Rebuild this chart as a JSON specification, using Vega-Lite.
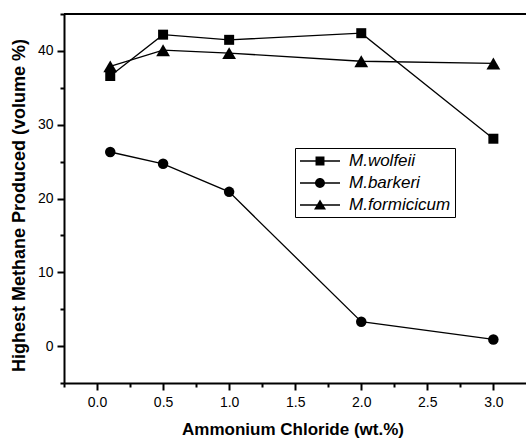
{
  "$schema": "https://vega.github.io/schema/vega-lite/v6.json",
  "width": 462,
  "height": 369,
  "autosize": {"type": "none"},
  "padding": {"left": 64, "top": 14, "right": 0, "bottom": 55},
  "background": "white",
  "config": {
    "view": {"stroke": null},
    "font": "Liberation Sans",
    "axis": {
      "grid": false,
      "domainColor": "black",
      "domainWidth": 2,
      "tickColor": "black",
      "tickWidth": 2,
      "labelFont": "Liberation Sans",
      "labelFontSize": 14,
      "labelColor": "black",
      "labelOverlap": false,
      "labelFlush": false,
      "titleFont": "Liberation Sans",
      "titleFontSize": 17,
      "titleFontWeight": "bold",
      "titleColor": "black"
    }
  },
  "data": {
    "values": [
      {"x": 0.1, "y": 36.6, "series": "M.wolfeii"},
      {"x": 0.5, "y": 42.2, "series": "M.wolfeii"},
      {"x": 1.0, "y": 41.5, "series": "M.wolfeii"},
      {"x": 2.0, "y": 42.4, "series": "M.wolfeii"},
      {"x": 3.0, "y": 28.1, "series": "M.wolfeii"},
      {"x": 0.1, "y": 26.3, "series": "M.barkeri"},
      {"x": 0.5, "y": 24.7, "series": "M.barkeri"},
      {"x": 1.0, "y": 20.9, "series": "M.barkeri"},
      {"x": 2.0, "y": 3.3, "series": "M.barkeri"},
      {"x": 3.0, "y": 0.9, "series": "M.barkeri"},
      {"x": 0.1, "y": 37.9, "series": "M.formicicum"},
      {"x": 0.5, "y": 40.1, "series": "M.formicicum"},
      {"x": 1.0, "y": 39.7, "series": "M.formicicum"},
      {"x": 2.0, "y": 38.6, "series": "M.formicicum"},
      {"x": 3.0, "y": 38.3, "series": "M.formicicum"}
    ]
  },
  "encoding": {
    "x": {
      "field": "x", "type": "quantitative",
      "scale": {"domain": [-0.25, 3.247], "nice": false, "zero": false},
      "axis": {
        "title": "Ammonium Chloride (wt.%)",
        "values": [-0.25, 0, 0.25, 0.5, 0.75, 1, 1.25, 1.5, 1.75, 2, 2.25, 2.5, 2.75, 3],
        "labelExpr": "datum.value % 0.5 === 0 ? format(datum.value, '.1f') : ''",
        "tickSize": {"condition": {"test": "datum.value % 0.5 === 0", "value": 7}, "value": 4},
        "labelFlush": false,
        "labelAlign": "center",
        "labelPadding": 5,
        "titleX": 228.5,
        "titleY": 51.5,
        "titleBaseline": "alphabetic",
        "titleAlign": "center"
      }
    },
    "y": {
      "field": "y", "type": "quantitative",
      "scale": {"domain": [-5, 45], "nice": false, "zero": false},
      "axis": {
        "title": "Highest Methane Produced (volume %)",
        "values": [-5, 0, 5, 10, 15, 20, 25, 30, 35, 40, 45],
        "labelExpr": "datum.value % 10 === 0 ? format(datum.value, 'd') : ''",
        "tickSize": {"condition": {"test": "datum.value % 10 === 0", "value": 7}, "value": 4},
        "labelFlush": false,
        "labelPadding": 4,
        "titleFontSize": 18,
        "titleX": -40,
        "titleY": 191,
        "titleAngle": -90,
        "titleBaseline": "alphabetic",
        "titleAlign": "center"
      }
    }
  },
  "layer": [
    {
      "mark": {"type": "rule", "color": "black", "strokeWidth": 2},
      "encoding": {
        "x": {"datum": -0.25, "type": "quantitative"},
        "x2": {"datum": 3.247},
        "y": {"datum": 45, "type": "quantitative"}
      }
    },
    {
      "mark": {"type": "line", "color": "black", "strokeWidth": 1.3},
      "encoding": {
        "detail": {"field": "series"},
        "order": {"field": "x"}
      }
    },
    {
      "transform": [{"filter": {"field": "series", "equal": "M.wolfeii"}}],
      "mark": {"type": "point", "filled": true, "color": "black", "opacity": 1, "shape": "square", "size": 100}
    },
    {
      "transform": [{"filter": {"field": "series", "equal": "M.barkeri"}}],
      "mark": {"type": "point", "filled": true, "color": "black", "opacity": 1, "shape": "circle", "size": 110}
    },
    {
      "transform": [{"filter": {"field": "series", "equal": "M.formicicum"}}],
      "mark": {"type": "point", "filled": true, "color": "black", "opacity": 1, "shape": "triangle-up", "size": 190}
    },
    {
      "mark": {"type": "point", "filled": true, "color": "black", "opacity": 0},
      "encoding": {
        "shape": {
          "field": "series", "type": "nominal",
          "scale": {
            "domain": ["M.wolfeii", "M.barkeri", "M.formicicum"],
            "range": [
              "M-1,-0.085H4V0.085H-1ZM0.94,-0.56H2.06V0.56H0.94Z",
              "M-1,-0.085H4V0.085H-1ZM0.88,0A0.62,0.62 0 0,1 2.12,0A0.62,0.62 0 0,1 0.88,0Z",
              "M-1,-0.085H4V0.085H-1ZM1.5,-0.7L2.25,0.55H0.75Z"
            ]
          },
          "legend": {
            "orient": "none",
            "legendX": 231,
            "legendY": 134,
            "title": null,
            "strokeColor": "black",
            "fillColor": "white",
            "padding": 4,
            "symbolSize": 256,
            "symbolFillColor": "black",
            "symbolStrokeColor": "black",
            "symbolOpacity": 1,
            "labelFont": "Liberation Sans",
            "labelFontSize": 17,
            "labelFontStyle": "italic",
            "labelColor": "black",
            "labelOffset": 32,
            "rowPadding": 5
          }
        }
      }
    }
  ]
}
